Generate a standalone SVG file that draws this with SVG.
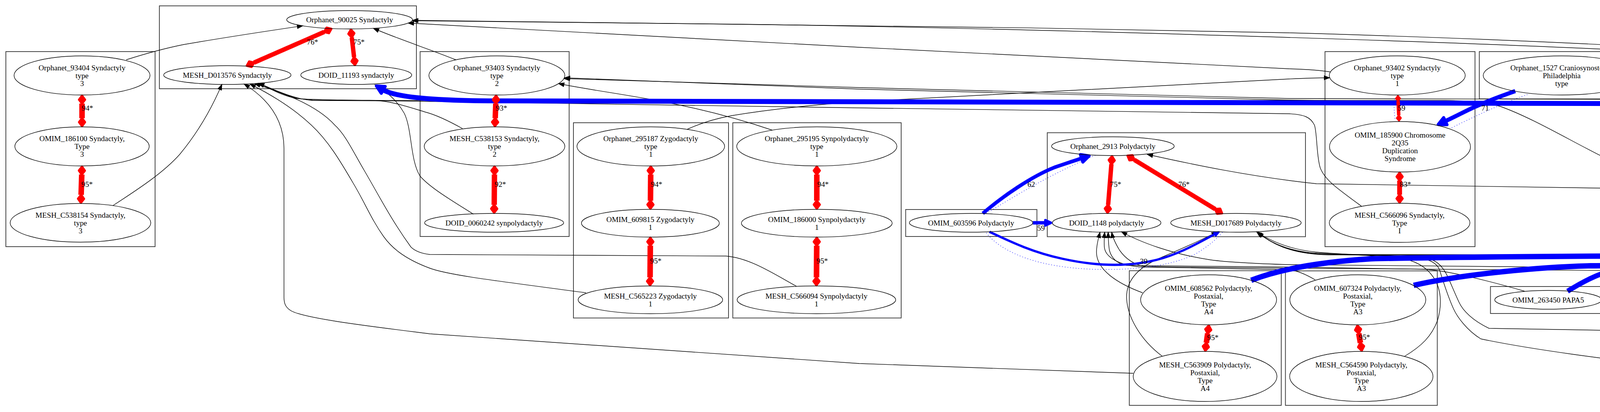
<svg xmlns="http://www.w3.org/2000/svg" width="6608" height="1054" viewBox="0 0 6608 1054">
<style>
.c{fill:none;stroke:#444;stroke-width:2}
.n{fill:none;stroke:#000;stroke-width:1.4}
text{font-family:"Liberation Serif","Times New Roman",serif;font-size:19.4px;fill:#000;text-anchor:middle}
.k{fill:none;stroke:#000;stroke-width:1.4;marker-end:url(#ak)}
.r{fill:none;stroke:#f00;marker-start:url(#dR);marker-end:url(#dR)}
.rs{fill:none;stroke:#f00;marker-start:url(#dS);marker-end:url(#dS)}
.ro{fill:none;stroke:#f00;marker-start:url(#dO);marker-end:url(#dO)}
.bL{fill:none;stroke:#00f;marker-end:url(#aL)}
.bM{fill:none;stroke:#00f;marker-end:url(#aM)}
.bS{fill:none;stroke:#00f;marker-end:url(#aS)}
.d{fill:none;stroke:#00f;stroke-width:1.5;stroke-dasharray:1.5 5.5}
</style>
<defs>
<marker id="ak" markerUnits="userSpaceOnUse" markerWidth="16" markerHeight="12" refX="14" refY="5" orient="auto" overflow="visible"><path d="M0,0L14,5L0,10Z" fill="#000" stroke="#000" stroke-width="1.4"/></marker>
<marker id="dR" markerUnits="userSpaceOnUse" markerWidth="30" markerHeight="30" refX="0" refY="0" orient="auto-start-reverse" overflow="visible"><path d="M0,0L10,-7.5L20,0L10,7.5Z" fill="#f00" stroke="#f00" stroke-width="6" stroke-linejoin="round"/></marker>
<marker id="dS" markerUnits="userSpaceOnUse" markerWidth="20" markerHeight="20" refX="0" refY="0" orient="auto-start-reverse" overflow="visible"><path d="M0,0L7,-5.5L14,0L7,5.5Z" fill="#f00" stroke="#f00" stroke-width="4" stroke-linejoin="round"/></marker>
<marker id="dO" markerUnits="userSpaceOnUse" markerWidth="20" markerHeight="20" refX="0" refY="0" orient="auto-start-reverse" overflow="visible"><path d="M0,0L7,-5.5L14,0L7,5.5Z" fill="#fff" stroke="#f00" stroke-width="3.5" stroke-linejoin="round"/></marker>
<marker id="aL" markerUnits="userSpaceOnUse" markerWidth="30" markerHeight="30" refX="0" refY="0" orient="auto" overflow="visible"><path d="M0,-10L20,0L0,10Z" fill="#00f" stroke="#00f" stroke-width="8" stroke-linejoin="round"/></marker>
<marker id="aM" markerUnits="userSpaceOnUse" markerWidth="24" markerHeight="24" refX="0" refY="0" orient="auto" overflow="visible"><path d="M0,-7L15,0L0,7Z" fill="#00f" stroke="#00f" stroke-width="6" stroke-linejoin="round"/></marker>
<marker id="aS" markerUnits="userSpaceOnUse" markerWidth="20" markerHeight="20" refX="0" refY="0" orient="auto" overflow="visible"><path d="M0,-5L12,0L0,5Z" fill="#00f" stroke="#00f" stroke-width="4" stroke-linejoin="round"/></marker>
</defs>
<rect width="6608" height="1054" fill="#fff"/>
<g id="clusters">
<rect class="c" x="408" y="15" width="658" height="212"/>
<rect class="c" x="15" y="132" width="382" height="499"/>
<rect class="c" x="1075.5" y="132" width="381.5" height="473"/>
<rect class="c" x="1468" y="314" width="397" height="499.5"/>
<rect class="c" x="1876" y="314" width="431" height="499.5"/>
<rect class="c" x="2318.5" y="536" width="336" height="69"/>
<rect class="c" x="2681" y="339.5" width="661" height="266"/>
<rect class="c" x="2891" y="692.5" width="389" height="344.5"/>
<rect class="c" x="3290.7" y="693" width="388.8" height="344"/>
<rect class="c" x="3392" y="132" width="384" height="499"/>
<rect class="c" x="3787" y="132" width="423.6" height="121"/>
<rect class="c" x="3815.6" y="733" width="296" height="69"/>
<rect class="c" x="4122" y="692.5" width="371" height="149"/>
<rect class="c" x="4221" y="132" width="382" height="499"/>
<rect class="c" x="4613" y="300.5" width="360" height="148.5"/>
<rect class="c" x="4613" y="496" width="344" height="149"/>
<rect class="c" x="4967.5" y="496" width="344.5" height="149"/>
<rect class="c" x="4504" y="733" width="389" height="305.5"/>
<rect class="c" x="4903.7" y="692.5" width="389.3" height="317.5"/>
<rect class="c" x="5322.5" y="314" width="431.5" height="499.5"/>
<rect class="c" x="5765" y="314" width="383.7" height="121"/>
<rect class="c" x="6159" y="314" width="433" height="499.5"/>
</g>
<g id="edges">
<path class="k" d="M323,153 C370,138 420,124 470,114 C580,95 680,80 775,66"/>
<path class="k" d="M289,526 C360,480 420,440 460,395 C510,335 545,270 568,216"/>
<path class="k" d="M2901,955 C2600,945 2300,935 2200,930 L1100,854 C950,835 780,815 745,795 C730,786 727,775 727,760 L727,380 C727,310 690,255 625,215"/>
<path class="k" d="M1500,749 C1300,722 1150,705 1100,686 C1030,660 1000,630 982,605 C950,560 935,520 905,470 C870,410 840,360 797,320 C760,285 710,250 640,215"/>
<path class="k" d="M2040,733 C1980,700 1920,660 1858,655 L1100,651 C1075,648 1060,640 1052,632 C1000,560 970,500 933,437 C905,390 885,345 857,320 C830,290 790,268 757,253 C720,238 690,226 652,214"/>
<path class="k" d="M1184,329 C1150,310 1120,295 1090,287 C1040,272 1000,258 957,257 L800,256 C770,255 745,248 720,238 C700,230 680,220 662,213"/>
<path class="k" d="M3486,528 C3420,480 3392,460 3380,430 C3370,400 3372,340 3365,320 C3355,300 3340,293 3300,291 L2200,276 C1700,268 1200,260 1000,258 L800,257 C760,254 720,238 662,213"/>
<path class="k" d="M4338,524 C4250,470 4180,440 4107,403 C4020,360 3920,300 3840,272 C3800,262 3760,258 3700,257 L1000,257 C900,256 800,256 760,252 C720,245 690,225 662,213"/>
<path class="k" d="M1212,548 C1160,515 1100,480 1075,450 C1050,410 1055,330 1035,290 C1015,255 990,235 960,217"/>
<path class="k" d="M1167,153 C1100,126 1020,100 956,72.5"/>
<path class="k" d="M4303,153 C4260,138 4230,132 4212,131 C3700,105 2600,72 1900,62 C1500,57 1200,54 1056,53"/>
<path class="k" d="M5858,328 C5750,285 5600,240 5300,205 C4900,160 4300,112 3300,84 C2500,66 1500,56 1056,52"/>
<path class="k" d="M3406,184 C3370,178 3330,177 3300,176 L2200,121 C1800,100 1300,72 1045,59"/>
<path class="k" d="M1759,331 C1800,312 1840,302 1872,296 C1950,283 2050,270 2200,260 L3300,202 C3340,200 3370,199 3404,199"/>
<path class="k" d="M1977,333 C1880,300 1780,275 1675,256 C1600,242 1500,228 1430,214"/>
<path class="k" d="M6268,331 C6220,310 6180,298 6100,288 C5950,272 5750,262 5500,260 L4400,255 L3300,252 C2900,242 2500,232 2200,224 L1444,201"/>
<path class="k" d="M5368,347 C5200,320 4800,285 4400,269 C4000,262 3600,262 3300,256 L2200,228 L1445,199"/>
<path class="k" d="M4705,430 C4660,455 4620,470 4589,474 C4500,484 4450,486 4400,486 L3370,470 C3200,452 3050,420 2937,395"/>
<path class="k" d="M4788,507 L4790,440"/>
<path class="k" d="M5047,518 L4889,429"/>
<path class="k" d="M2925,749 C2860,725 2807,690 2807,645 C2807,625 2812,610 2816,594"/>
<path class="k" d="M3367,716 C3340,700 3320,692 3300,690 L2923,683 C2870,680 2828,660 2827,630 C2826,615 2827,605 2828,594"/>
<path class="k" d="M3903,745 C3800,715 3700,692 3651,689 L3300,683 L2884,679 C2860,675 2845,660 2840,640 C2837,620 2837,605 2837,594"/>
<path class="k" d="M4200,715 C4170,700 4140,693 4121,692 L3300,686 L2930,682 C2900,676 2880,660 2866,640 C2855,622 2848,605 2846,594"/>
<path class="k" d="M4651,744 C4600,715 4530,690 4476,688 L3300,677 C3200,674 3137,670 3100,665 C3000,650 2920,620 2871,593"/>
<path class="k" d="M2975,911 C2920,870 2885,810 2884,760 C2884,720 2910,685 2972,659 C3040,630 3080,612 3116,593"/>
<path class="k" d="M3595,912 C3640,885 3665,860 3680,820 C3692,780 3690,740 3670,710 C3650,680 3620,665 3580,660 C3500,652 3420,650 3370,645 C3300,638 3250,615 3217,593"/>
<path class="k" d="M4516,955 C4480,954 4440,952 4400,951 C4100,920 3900,890 3791,867 C3755,845 3730,810 3721,790 C3705,755 3695,720 3685,690 C3675,665 3640,656 3580,655 L3380,650 C3300,645 3250,620 3220,594"/>
<path class="k" d="M5052,929 C4990,890 4940,860 4891,855 L4400,850 L3812,840 C3770,820 3745,795 3735,773 C3715,730 3705,700 3693,686 C3680,668 3660,658 3623,656 L3380,648 C3300,645 3250,620 3217,593"/>
<path class="k" d="M5452,735 C5400,700 5350,680 5300,672 C5200,660 5000,656 4800,655 L3400,652 C3300,650 3250,620 3220,594"/>
<path class="k" d="M6252,738 C6100,700 5900,665 5747,657 C5600,653 5550,653 5500,653 L3400,651 C3300,650 3250,620 3220,594"/>
<path class="d" d="M2525,546 C2600,500 2700,440 2805,397"/>
<path class="d" d="M2525,596 C2560,640 2640,680 2780,688 C2900,694 3000,680 3060,650 C3090,632 3115,612 3130,594"/>
<path class="d" d="M3570,253 C3568,270 3569,290 3572,309"/>
<path class="d" d="M3910,242 C3870,255 3800,285 3714,328"/>
<path class="d" d="M5086,836 C5080,860 5082,900 5092,926"/>
<path class="d" d="M5130,635 C5125,660 5120,680 5115,702"/>
<path class="d" d="M6369,603 C6366,650 6366,690 6367,722"/>
<path class="bL" stroke-width="12.6" d="M5864,331 C5780,295 5650,275 5400,268 L1250,258 C1100,257 1012,248 981,230"/>
<path class="bL" stroke-width="10.65" d="M3879,233 C3830,250 3780,270 3745,288 C3725,298 3715,303 3700,310"/>
<path class="bL" stroke-width="9.3" d="M2516,546 C2570,500 2640,452 2700,428 C2730,418 2750,411 2769,405"/>
<path class="bM" stroke-width="8.85" d="M2644,570 L2676,570"/>
<path class="bS" stroke-width="5.85" d="M2533,593 C2580,615 2640,645 2720,662 C2820,684 2900,680 2960,665 C3020,650 3070,620 3110,599"/>
<path class="bL" stroke-width="13.8" d="M3203,717 C3260,695 3350,672 3510,662 C3800,655 4300,655 4500,652 C4580,648 4620,637 4659,626"/>
<path class="bL" stroke-width="13.8" d="M3619,730 C3750,700 3950,683 4072,680 C4250,678 4400,680 4480,672 C4560,660 4610,640 4659,626"/>
<path class="bL" stroke-width="12.75" d="M4013,745 C4050,722 4090,700 4140,688 C4250,665 4400,660 4500,655 C4580,650 4620,637 4659,626"/>
<path class="bL" stroke-width="13.8" d="M4428,720 L4660,628"/>
<path class="bL" stroke-width="12.75" d="M4709,743 L4748,656"/>
<path class="bL" stroke-width="13.65" d="M5010,712 L4897,637"/>
<path class="bM" stroke-width="8.85" d="M5101,633 C5100,650 5097,670 5093.5,685"/>
<path class="r" stroke-width="11.4" d="M829.8,81.8 L650.2,160.2"/>
<path class="r" stroke-width="11.25" d="M900.6,95.8 L906.4,146.2"/>
<path class="r" stroke-width="14.1" d="M210,265 L210,302.5"/>
<path class="r" stroke-width="14.25" d="M209.3,446.5 L207.7,498.5"/>
<path class="r" stroke-width="13.95" d="M1269.2,265 L1267.8,302.5"/>
<path class="r" stroke-width="13.8" d="M1265.8,446.5 L1265.2,524"/>
<path class="r" stroke-width="14.1" d="M1665.8,446.5 L1665.2,513.5"/>
<path class="r" stroke-width="14.25" d="M1664.8,628.5 L1664.2,709.5"/>
<path class="r" stroke-width="14.1" d="M2091,446.5 L2091,513.5"/>
<path class="r" stroke-width="14.25" d="M2090.8,628.5 L2090.2,709.5"/>
<path class="r" stroke-width="11.25" d="M2845.2,419.9 L2836.8,524.1"/>
<path class="r" stroke-width="11.4" d="M2903.8,408.8 L3111.2,535.1"/>
<path class="rs" stroke-width="8.85" d="M3579.2,259 L3580.8,295"/>
<path class="r" stroke-width="12.45" d="M3583,462 L3583,498"/>
<path class="r" stroke-width="14.1" d="M4407.1,265 L4407.9,302.5"/>
<path class="r" stroke-width="14.25" d="M4408.5,446.5 L4409.5,498"/>
<path class="r" stroke-width="14.25" d="M3091.7,853 L3088.3,877"/>
<path class="r" stroke-width="14.25" d="M3478.4,853 L3482.6,877"/>
<path class="r" stroke-width="12.45" d="M4698,813 L4698,877"/>
<path class="ro" stroke-width="7.2" d="M5098,847 L5098,912.4"/>
<path class="r" stroke-width="14.1" d="M5537.8,446.5 L5537.2,513.5"/>
<path class="r" stroke-width="14.25" d="M5537,628.5 L5537,709.5"/>
<path class="r" stroke-width="11.55" d="M6376,446.5 L6376,524"/>
<path class="ro" stroke-width="5.55" d="M6374.8,610 L6373.2,715.5"/>
<text x="800" y="114.3">76*</text>
<text x="919" y="114.3">75*</text>
<text x="224" y="282.7">94*</text>
<text x="223" y="478.3">95*</text>
<text x="1284" y="282.7">93*</text>
<text x="1281" y="477.7">92*</text>
<text x="1681" y="477.7">94*</text>
<text x="1679" y="673.7">95*</text>
<text x="2107" y="477.7">94*</text>
<text x="2105" y="673.7">95*</text>
<text x="2856" y="478.2">75*</text>
<text x="3031" y="478.2">76*</text>
<text x="3588" y="282.7">59</text>
<text x="3598" y="478.3">83*</text>
<text x="4421" y="282.7">94*</text>
<text x="4425" y="477.7">95*</text>
<text x="3105" y="869.7">95*</text>
<text x="3493" y="869.3">95*</text>
<text x="4712" y="869.3">83*</text>
<text x="5108.5" y="870.7">48</text>
<text x="5553" y="477.7">94*</text>
<text x="5551" y="673.7">95*</text>
<text x="6390" y="477.7">77*</text>
<text x="6383" y="674.2">37</text>
<text x="2640" y="478.2">62</text>
<text x="2665" y="590.2">59</text>
<text x="2928" y="674.7">39</text>
<text x="3802" y="282.7">71</text>
<text x="5670" y="282.7">84*</text>
<text x="4229" y="673.7">92*</text>
<text x="4343" y="673.7">92*</text>
<text x="4506" y="673.7">85*</text>
<text x="4590" y="673.7">92*</text>
<text x="4760" y="673.7">85*</text>
<text x="4967" y="673.7">91*</text>
<text x="5103" y="673.7">59</text>
</g>
<g id="Orphanet_90025"><ellipse class="n" cx="895" cy="50.5" rx="161" ry="23.5"/><text x="895" y="57.2">Orphanet_90025 Syndactyly</text></g>
<g id="MESH_D013576"><ellipse class="n" cx="582" cy="192" rx="163" ry="24"/><text x="582" y="198.7">MESH_D013576 Syndactyly</text></g>
<g id="DOID_11193"><ellipse class="n" cx="912" cy="192" rx="142" ry="24"/><text x="912" y="198.7">DOID_11193 syndactyly</text></g>
<g id="Orphanet_93404"><ellipse class="n" cx="210" cy="193" rx="174" ry="50"/><text x="210" y="179.7">Orphanet_93404 Syndactyly</text><text x="210" y="199.7">type</text><text x="210" y="219.7">3</text></g>
<g id="OMIM_186100"><ellipse class="n" cx="210" cy="374.5" rx="172" ry="50"/><text x="210" y="361.2">OMIM_186100 Syndactyly,</text><text x="210" y="381.2">Type</text><text x="210" y="401.2">3</text></g>
<g id="MESH_C538154"><ellipse class="n" cx="206" cy="570" rx="180" ry="49.5"/><text x="206" y="556.7">MESH_C538154 Syndactyly,</text><text x="206" y="576.7">type</text><text x="206" y="596.7">3</text></g>
<g id="Orphanet_93403"><ellipse class="n" cx="1272" cy="193" rx="174" ry="50"/><text x="1272" y="179.7">Orphanet_93403 Syndactyly</text><text x="1272" y="199.7">type</text><text x="1272" y="219.7">2</text></g>
<g id="MESH_C538153"><ellipse class="n" cx="1266" cy="374.5" rx="180" ry="50"/><text x="1266" y="361.2">MESH_C538153 Syndactyly,</text><text x="1266" y="381.2">type</text><text x="1266" y="401.2">2</text></g>
<g id="DOID_0060242"><ellipse class="n" cx="1265" cy="570" rx="178" ry="24"/><text x="1265" y="576.7">DOID_0060242 synpolydactyly</text></g>
<g id="Orphanet_295187"><ellipse class="n" cx="1666" cy="374.5" rx="189" ry="50"/><text x="1666" y="361.2">Orphanet_295187 Zygodactyly</text><text x="1666" y="381.2">type</text><text x="1666" y="401.2">1</text></g>
<g id="OMIM_609815"><ellipse class="n" cx="1665" cy="571" rx="176.5" ry="35.5"/><text x="1665" y="567.7">OMIM_609815 Zygodactyly</text><text x="1665" y="587.7">1</text></g>
<g id="MESH_C565223"><ellipse class="n" cx="1665" cy="767" rx="185" ry="35.5"/><text x="1665" y="763.7">MESH_C565223 Zygodactyly</text><text x="1665" y="783.7">1</text></g>
<g id="Orphanet_295195"><ellipse class="n" cx="2091" cy="374.5" rx="205" ry="50"/><text x="2091" y="361.2">Orphanet_295195 Synpolydactyly</text><text x="2091" y="381.2">type</text><text x="2091" y="401.2">1</text></g>
<g id="OMIM_186000"><ellipse class="n" cx="2091" cy="571" rx="193" ry="35.5"/><text x="2091" y="567.7">OMIM_186000 Synpolydactyly</text><text x="2091" y="587.7">1</text></g>
<g id="MESH_C566094"><ellipse class="n" cx="2090" cy="767" rx="203" ry="35.5"/><text x="2090" y="763.7">MESH_C566094 Synpolydactyly</text><text x="2090" y="783.7">1</text></g>
<g id="OMIM_603596"><ellipse class="n" cx="2486" cy="570" rx="158" ry="24"/><text x="2486" y="576.7">OMIM_603596 Polydactyly</text></g>
<g id="Orphanet_2913"><ellipse class="n" cx="2849" cy="374" rx="157" ry="24"/><text x="2849" y="380.7">Orphanet_2913 Polydactyly</text></g>
<g id="DOID_1148"><ellipse class="n" cx="2833" cy="570" rx="139" ry="24"/><text x="2833" y="576.7">DOID_1148 polydactyly</text></g>
<g id="MESH_D017689"><ellipse class="n" cx="3164" cy="570" rx="167" ry="24"/><text x="3164" y="576.7">MESH_D017689 Polydactyly</text></g>
<g id="OMIM_608562"><ellipse class="n" cx="3094" cy="767" rx="174" ry="64"/><text x="3094" y="743.7">OMIM_608562 Polydactyly,</text><text x="3094" y="763.7">Postaxial,</text><text x="3094" y="783.7">Type</text><text x="3094" y="803.7">A4</text></g>
<g id="MESH_C563909"><ellipse class="n" cx="3085" cy="963" rx="184" ry="64"/><text x="3085" y="939.7">MESH_C563909 Polydactyly,</text><text x="3085" y="959.7">Postaxial,</text><text x="3085" y="979.7">Type</text><text x="3085" y="999.7">A4</text></g>
<g id="OMIM_607324"><ellipse class="n" cx="3476" cy="767" rx="174" ry="64"/><text x="3476" y="743.7">OMIM_607324 Polydactyly,</text><text x="3476" y="763.7">Postaxial,</text><text x="3476" y="783.7">Type</text><text x="3476" y="803.7">A3</text></g>
<g id="MESH_C564590"><ellipse class="n" cx="3485" cy="963" rx="183.5" ry="64"/><text x="3485" y="939.7">MESH_C564590 Polydactyly,</text><text x="3485" y="959.7">Postaxial,</text><text x="3485" y="979.7">Type</text><text x="3485" y="999.7">A3</text></g>
<g id="Orphanet_93402"><ellipse class="n" cx="3577" cy="193" rx="174" ry="50"/><text x="3577" y="179.7">Orphanet_93402 Syndactyly</text><text x="3577" y="199.7">type</text><text x="3577" y="219.7">1</text></g>
<g id="OMIM_185900"><ellipse class="n" cx="3584" cy="375.5" rx="180.5" ry="64.5"/><text x="3584" y="352.2">OMIM_185900 Chromosome</text><text x="3584" y="372.2">2Q35</text><text x="3584" y="392.2">Duplication</text><text x="3584" y="412.2">Syndrome</text></g>
<g id="MESH_C566096"><ellipse class="n" cx="3583" cy="570" rx="180" ry="50"/><text x="3583" y="556.7">MESH_C566096 Syndactyly,</text><text x="3583" y="576.7">Type</text><text x="3583" y="596.7">I</text></g>
<g id="Orphanet_1527"><ellipse class="n" cx="3998" cy="193" rx="201" ry="50"/><text x="3998" y="179.7">Orphanet_1527 Craniosynostosis,</text><text x="3998" y="199.7">Philadelphia</text><text x="3998" y="219.7">type</text></g>
<g id="OMIM_263450"><ellipse class="n" cx="3963.5" cy="767" rx="137" ry="24"/><text x="3963.5" y="773.7">OMIM_263450 PAPA5</text></g>
<g id="OMIM_615226"><ellipse class="n" cx="4307.5" cy="767" rx="174.5" ry="64"/><text x="4307.5" y="743.7">OMIM_615226 Polydactyly,</text><text x="4307.5" y="763.7">Postaxial,</text><text x="4307.5" y="783.7">Type</text><text x="4307.5" y="803.7">A6</text></g>
<g id="Orphanet_93406"><ellipse class="n" cx="4407" cy="193" rx="174" ry="50"/><text x="4407" y="179.7">Orphanet_93406 Syndactyly</text><text x="4407" y="199.7">type</text><text x="4407" y="219.7">5</text></g>
<g id="OMIM_186300"><ellipse class="n" cx="4408" cy="374.5" rx="172" ry="50"/><text x="4408" y="361.2">OMIM_186300 Syndactyly,</text><text x="4408" y="381.2">Type</text><text x="4408" y="401.2">5</text></g>
<g id="MESH_C538155"><ellipse class="n" cx="4411.5" cy="570" rx="180" ry="50"/><text x="4411.5" y="556.7">MESH_C538155 Syndactyly,</text><text x="4411.5" y="576.7">type</text><text x="4411.5" y="596.7">v</text></g>
<g id="Orphanet_294942"><ellipse class="n" cx="4793.6" cy="375" rx="169" ry="64.5"/><text x="4793.6" y="351.7">Orphanet_294942 Postaxial</text><text x="4793.6" y="371.7">polydactyly</text><text x="4793.6" y="391.7">of</text><text x="4793.6" y="411.7">fingers</text></g>
<g id="Orphanet_93334"><ellipse class="n" cx="4785.5" cy="571" rx="161" ry="64"/><text x="4785.5" y="547.7">Orphanet_93334 Postaxial</text><text x="4785.5" y="567.7">polydactyly</text><text x="4785.5" y="587.7">type</text><text x="4785.5" y="607.7">A</text></g>
<g id="Orphanet_93335"><ellipse class="n" cx="5139.7" cy="571" rx="161" ry="64"/><text x="5139.7" y="547.7">Orphanet_93335 Postaxial</text><text x="5139.7" y="567.7">polydactyly</text><text x="5139.7" y="587.7">type</text><text x="5139.7" y="607.7">B</text></g>
<g id="OMIM_602085"><ellipse class="n" cx="4698" cy="767" rx="137" ry="24"/><text x="4698" y="773.7">OMIM_602085 PAPA2</text></g>
<g id="MESH_C566585"><ellipse class="n" cx="4698" cy="963" rx="183.5" ry="64"/><text x="4698" y="939.7">MESH_C566585 Polydactyly,</text><text x="4698" y="959.7">Postaxial,</text><text x="4698" y="979.7">Type</text><text x="4698" y="999.7">A2</text></g>
<g id="OMIM_174200"><ellipse class="n" cx="5098.7" cy="767" rx="174" ry="64"/><text x="5098.7" y="743.7">OMIM_174200 Polydactyly,</text><text x="5098.7" y="763.7">Postaxial,</text><text x="5098.7" y="783.7">Type</text><text x="5098.7" y="803.7">A1</text></g>
<g id="MESH_C562429"><ellipse class="n" cx="5098.7" cy="964" rx="183.7" ry="35.6"/><text x="5098.7" y="960.7">MESH_C562429 Polydactyly,</text><text x="5098.7" y="980.7">Postaxial</text></g>
<g id="Orphanet_295197"><ellipse class="n" cx="5539" cy="374.5" rx="206" ry="50"/><text x="5539" y="361.2">Orphanet_295197 Synpolydactyly</text><text x="5539" y="381.2">type</text><text x="5539" y="401.2">2</text></g>
<g id="OMIM_608180"><ellipse class="n" cx="5537" cy="571" rx="193" ry="35.5"/><text x="5537" y="567.7">OMIM_608180 Synpolydactyly</text><text x="5537" y="587.7">2</text></g>
<g id="MESH_C564278"><ellipse class="n" cx="5537.5" cy="767" rx="202.5" ry="35.5"/><text x="5537.5" y="763.7">MESH_C564278 Synpolydactyly</text><text x="5537.5" y="783.7">2</text></g>
<g id="Orphanet_295012"><ellipse class="n" cx="5957" cy="374.5" rx="181" ry="50"/><text x="5957" y="361.2">Orphanet_295012 Syndactyly</text><text x="5957" y="381.2">type</text><text x="5957" y="401.2">6</text></g>
<g id="Orphanet_295199"><ellipse class="n" cx="6375.5" cy="374.5" rx="205.6" ry="50"/><text x="6375.5" y="361.2">Orphanet_295199 Synpolydactyly</text><text x="6375.5" y="381.2">type</text><text x="6375.5" y="401.2">3</text></g>
<g id="OMIM_610234"><ellipse class="n" cx="6375.6" cy="570" rx="128.6" ry="24"/><text x="6375.6" y="576.7">OMIM_610234 SPD3</text></g>
<g id="MESH_C565216"><ellipse class="n" cx="6373" cy="767" rx="203" ry="35.5"/><text x="6373" y="763.7">MESH_C565216 Synpolydactyly</text><text x="6373" y="783.7">3</text></g>
</svg>
